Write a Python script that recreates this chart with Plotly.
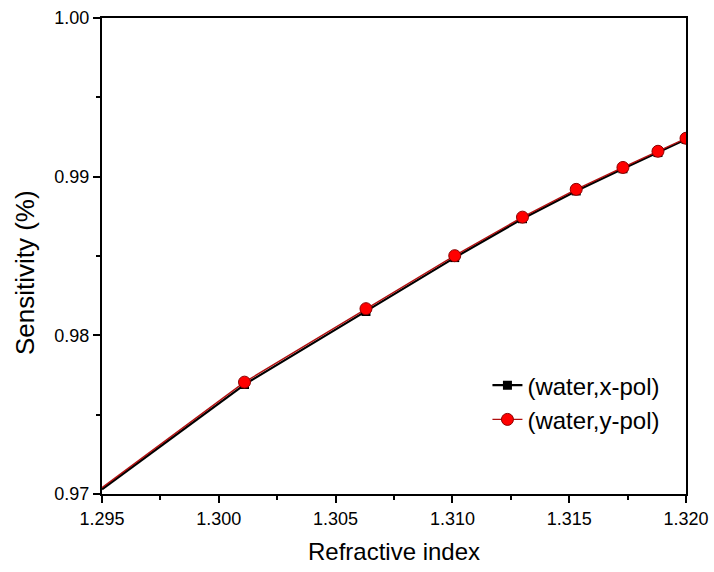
import plotly.graph_objects as go

# start of the curves at the left axis (no marker drawn there)
ri_start = [1.295, 1.3011]
sens_x_start = [0.97030, 0.97690]
sens_y_start = [0.97040, 0.97705]

# marked points
ri = [1.3011, 1.3063, 1.3101, 1.3130, 1.3153, 1.3173, 1.3188, 1.3200]
sens_x = [0.97690, 0.98150, 0.98490, 0.98735, 0.98910, 0.99050, 0.99152, 0.99235]
sens_y = [0.97705, 0.98168, 0.98502, 0.98745, 0.98920, 0.99058, 0.99160, 0.99242]

FONT = "Liberation Sans, Arial"
BLACK_LINE = dict(color="#000000", width=2.2)
RED_LINE = dict(color="#b01010", width=1.4)

fig = go.Figure()
fig.add_trace(go.Scatter(x=ri_start, y=sens_x_start, mode="lines", line=BLACK_LINE,
                         showlegend=False, hoverinfo="skip"))
fig.add_trace(go.Scatter(x=ri_start, y=sens_y_start, mode="lines", line=RED_LINE,
                         showlegend=False, hoverinfo="skip"))
fig.add_trace(go.Scatter(
    x=ri, y=sens_x, mode="lines+markers", name="(water,x-pol)",
    line=BLACK_LINE,
    marker=dict(symbol="square", color="#000000", size=9),
))
fig.add_trace(go.Scatter(
    x=ri, y=sens_y, mode="lines+markers", name="(water,y-pol)",
    line=RED_LINE,
    marker=dict(symbol="circle", color="#ff0000", size=12,
                line=dict(color="#8b0000", width=1)),
))

axis_common = dict(
    showgrid=False, zeroline=False, showline=True, linecolor="black", linewidth=2.2,
    mirror=True, ticks="outside", ticklen=7, tickwidth=2, tickcolor="black",
    tickfont=dict(family=FONT, size=18, color="black"), automargin=False,
)
fig.update_xaxes(
    range=[1.295, 1.320], dtick=0.005, tick0=1.295, tickformat=".3f",
    title=dict(text="Refractive index", font=dict(family=FONT, size=24, color="black"), standoff=15),
    minor=dict(ticks="outside", ticklen=4, tickwidth=2, tickcolor="black", dtick=0.0025),
    **axis_common,
)
fig.update_yaxes(
    range=[0.97, 1.00], dtick=0.01, tick0=0.97, tickformat=".2f",
    minor=dict(ticks="outside", ticklen=4, tickwidth=2, tickcolor="black", dtick=0.005),
    **axis_common,
)
fig.add_annotation(
    text="Sensitivity (%)", textangle=-90, showarrow=False,
    xref="paper", yref="paper", x=-0.132, y=0.466, xanchor="center", yanchor="middle",
    font=dict(family=FONT, size=26, color="black"),
)
fig.update_layout(
    width=714, height=572,
    margin=dict(l=102, r=28, t=18, b=78),
    paper_bgcolor="white", plot_bgcolor="white",
    showlegend=True,
    legend=dict(x=0.66, y=0.275, xanchor="left", yanchor="top", bgcolor="rgba(0,0,0,0)",
                font=dict(family=FONT, size=24, color="black"),
                tracegroupgap=0),
)
fig.write_html("out.html")
